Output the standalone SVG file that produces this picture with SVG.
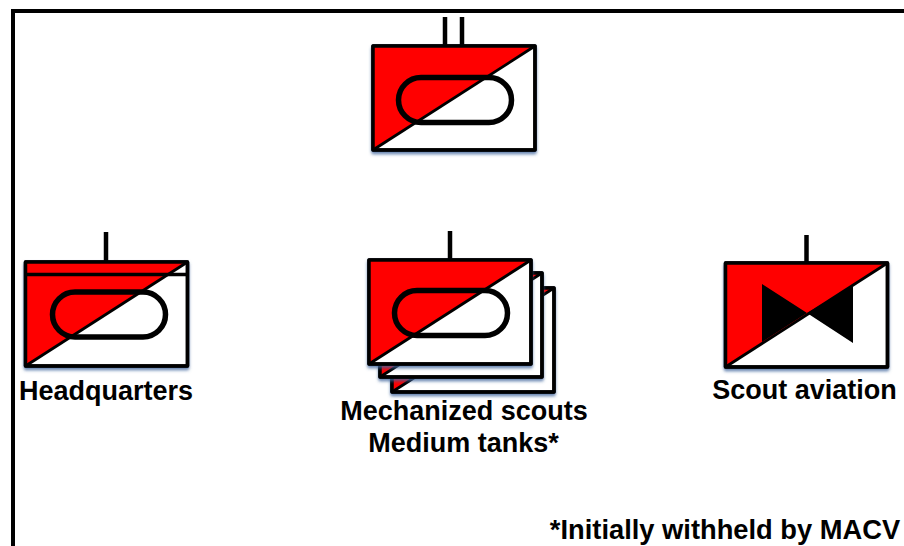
<svg xmlns="http://www.w3.org/2000/svg" width="904" height="546" viewBox="0 0 904 546">
<style>
.box{fill:#fff;stroke:#000;stroke-width:3.500;stroke-linejoin:round}
.edge{fill:none;stroke:#000;stroke-width:3.500;stroke-linejoin:round}
.red{fill:#f00;stroke:none}
.diag{fill:none;stroke:#000;stroke-width:2.800}
.stem{fill:none;stroke:#000;stroke-width:4.500}
.oval{fill:none;stroke:#000;stroke-width:5.500}
.frame{fill:none;stroke:#000;stroke-width:4}
text{font-family:"Liberation Sans",Arial,sans-serif;font-weight:bold;font-size:27px;fill:#000;text-anchor:middle}
</style>
<defs>
<filter id="s" x="-10%" y="-10%" width="120%" height="125%"><feDropShadow dx="0" dy="2.500" stdDeviation="1.500" flood-color="#3f639c" flood-opacity="0.8"/></filter>
<g id="sym"><rect class="box" x="0" y="0" width="162" height="104" filter="url(#s)"/><path class="red" d="M0 0H162L0 104Z"/><path class="diag" d="M162 0L0 104"/><rect class="edge" x="0" y="0" width="162" height="104"/></g>
</defs>
<g id="connectors"><path class="frame" d="M13 546V11H904"/></g>
<g id="node-top">
<path class="stem" d="M445 17V46M462 17V46"/>
<use href="#sym" x="373" y="46"/>
<rect class="oval" x="398.500" y="77.500" width="113" height="45" rx="22.500"/>
</g>
<g id="node-hq">
<path class="stem" d="M106 232V262"/>
<use href="#sym" x="25.500" y="262"/>
<path d="M25 274.500H187" fill="none" stroke="#000" stroke-width="3.500"/>
<rect class="oval" x="52.500" y="292" width="113" height="45" rx="22.500"/>
<text x="106" y="400">Headquarters</text>
</g>
<g id="node-mech">
<use href="#sym" x="392" y="288"/>
<use href="#sym" x="380" y="273"/>
<path class="stem" d="M450 231V260"/>
<use href="#sym" x="369" y="260"/>
<rect class="oval" x="394.500" y="290.500" width="113" height="45" rx="22.500"/>
<text x="464" y="420">Mechanized scouts</text>
<text x="463.500" y="452">Medium tanks*</text>
</g>
<g id="node-scout">
<path class="stem" d="M806.500 235V263"/>
<use href="#sym" x="725.500" y="263"/>
<path d="M762 284L807 313L853 286V343L807 313L762 342Z" fill="#000"/>
<text x="804.500" y="399">Scout aviation</text>
</g>
<text x="725" y="539" style="font-size:27.300px">*Initially withheld by MACV</text>
</svg>
